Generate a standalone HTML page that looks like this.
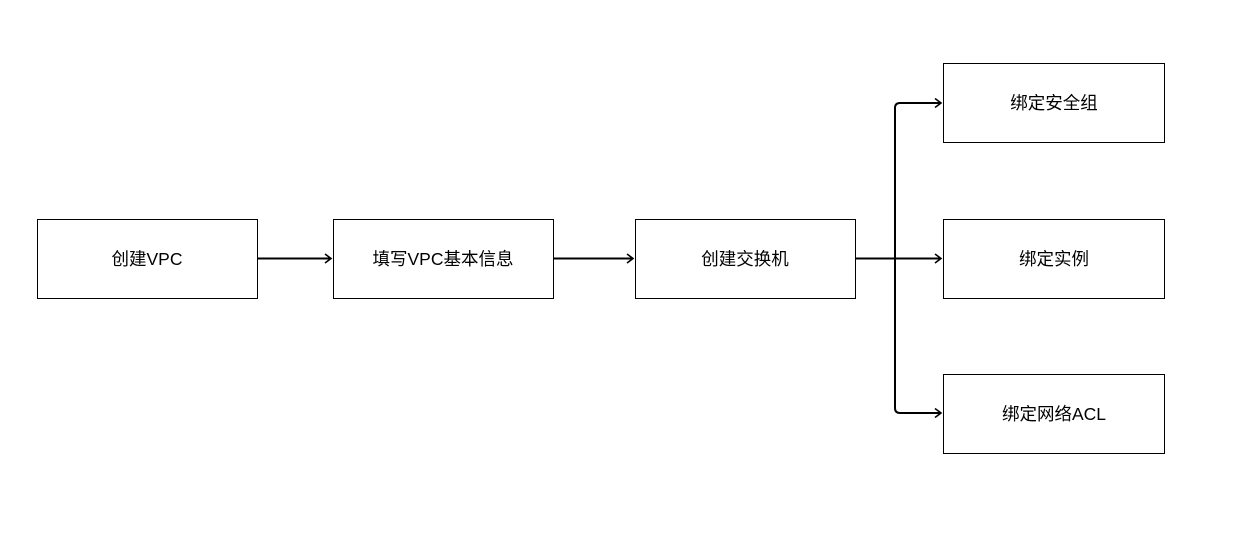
<!DOCTYPE html>
<html><head><meta charset="utf-8"><style>
body{margin:0;width:1256px;height:538px;background:#fff;overflow:hidden}
</style></head><body>
<svg width="1256" height="538" xmlns="http://www.w3.org/2000/svg" font-family="Liberation Sans, Noto Sans CJK SC, sans-serif" font-size="17.5">
<defs><marker id="a" markerWidth="12" markerHeight="12" refX="9" refY="6" orient="auto" markerUnits="userSpaceOnUse"><path d="M3,1.5 L9,6 L3,10.5" fill="none" stroke="#000" stroke-width="1.6"/></marker></defs>
<g fill="#fff" stroke="#000" stroke-width="1">
<rect x="37.5" y="219.5" width="220" height="79"/>
<rect x="333.5" y="219.5" width="220" height="79"/>
<rect x="635.5" y="219.5" width="220" height="79"/>
<rect x="943.5" y="63.5" width="221" height="79"/>
<rect x="943.5" y="219.5" width="221" height="79"/>
<rect x="943.5" y="374.5" width="221" height="79"/>
</g>
<g fill="none" stroke="#000" stroke-width="2">
<path d="M258,258.5 H331" marker-end="url(#a)"/>
<path d="M554,258.5 H633" marker-end="url(#a)"/>
<path d="M856,258.5 H895 M895,258.5 V108 Q895,103 900,103 H941" marker-end="url(#a)"/>
<path d="M895,258.5 H941" marker-end="url(#a)"/>
<path d="M895,258.5 V408 Q895,413 900,413 H941" marker-end="url(#a)"/>
</g>
<g text-anchor="middle" fill="#000">
<text x="147" y="265">创建VPC</text>
<text x="443" y="265">填写VPC基本信息</text>
<text x="745" y="265">创建交换机</text>
<text x="1054" y="109">绑定安全组</text>
<text x="1054" y="265">绑定实例</text>
<text x="1054" y="420">绑定网络ACL</text>
</g>
</svg>
</body></html>
